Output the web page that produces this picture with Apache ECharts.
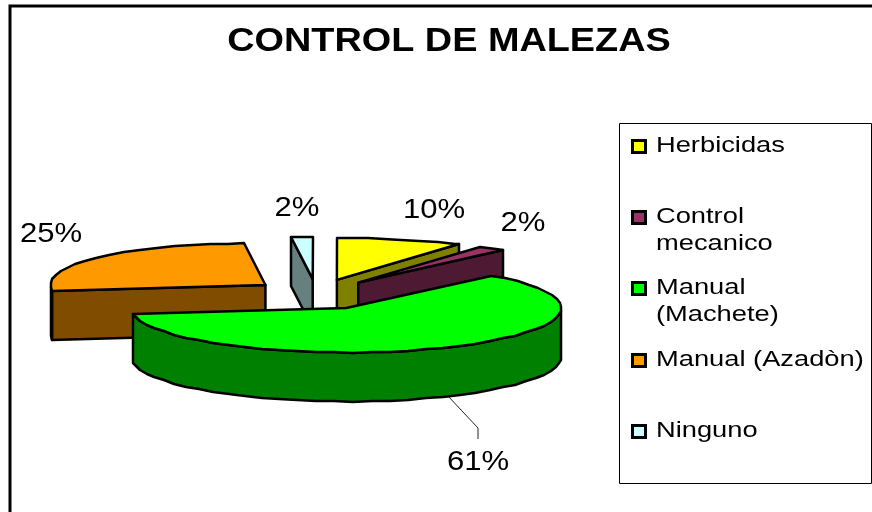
<!DOCTYPE html>
<html><head><meta charset="utf-8">
<style>html,body{margin:0;padding:0;background:#fff}#c{width:872px;height:512px}</style>
<script src="https://cdn.jsdelivr.net/npm/echarts@6/dist/echarts.min.js"></script>
</head><body><div id="c"></div>
<script>
const titleText = 'CONTROL DE MALEZAS';
const categories = ['Herbicidas', 'Control mecanico', 'Manual (Machete)', 'Manual (Azadòn)', 'Ninguno'];
const percents = [10, 2, 61, 25, 2];
const topColors = ['#FFFF00', '#993366', '#00FF00', '#FF9900', '#CCFFFF'];
const sideColors = ['#808000', '#4D1933', '#008000', '#804D00', '#668080'];
const legendLines = [['Herbicidas'], ['Control', 'mecanico'], ['Manual', '(Machete)'], ['Manual (Azadòn)'], ['Ninguno']];

// pie projection
const CX = 316.8, CY = 294.4, RX = 215, RY = 44.5, DEPTH = 49, EX = 65, EY = 15.3, STEP = 5;
const FONT = 'Liberation Sans, Arial, sans-serif';
const total = percents.reduce((a, b) => a + b, 0);
const spans = []; let acc = 0;
percents.forEach(v => { spans.push([acc / total * 360, (acc + v) / total * 360]); acc += v; });
const rad = d => d * Math.PI / 180;

function sliceGeom(i) {
  const [a, b] = spans[i], m = rad((a + b) / 2);
  const ox = CX + EX * Math.sin(m), oy = CY - EY * Math.cos(m);
  // slight narrowing of the far rim, as in a perspective view
  const at = d => {
    const c = Math.cos(rad(d)), back = c > 0 ? Math.pow(c, 8) : 0;
    return [Math.round(ox + RX * Math.sin(rad(d)) * (1 - 0.2 * back)),
            Math.round(oy - RY * c * (1 - 0.06 * back))];
  };
  const arc = [];
  for (let d = a; d < b; d += STEP) arc.push(at(d));
  arc.push(at(b));
  return { a, b, ox, oy, at, arc };
}
const down = p => [p[0], p[1] + DEPTH];
const poly = (points, fill) => ({
  type: 'polygon', shape: { points },
  style: { fill, stroke: '#000', lineWidth: 2.5, lineJoin: 'round' }
});
function renderSlice(i) {
  const g = sliceGeom(i), kids = [];
  const apex = [g.ox, g.oy];
  if (Math.sin(rad(g.a)) < -1e-6) { const p = g.at(g.a); kids.push(poly([apex, p, down(p), down(apex)], sideColors[i])); }
  if (Math.sin(rad(g.b)) > 1e-6) { const p = g.at(g.b); kids.push(poly([apex, p, down(p), down(apex)], sideColors[i])); }
  const front = g.arc.filter((p, k) => { const d = Math.min(g.a + k * STEP, g.b); return d >= 90 && d <= 270; });
  if (front.length > 1) kids.push(poly(front.concat(front.slice().reverse().map(down)), sideColors[i]));
  kids.push(poly([apex].concat(g.arc), topColors[i]));
  return { type: 'group', children: kids };
}
// back-to-front order: slices further from viewer are listed first
const order = percents.map((_, i) => i).sort((p, q) => {
  const y = i => -Math.cos(rad((spans[i][0] + spans[i][1]) / 2));
  return y(p) - y(q);
});

const txt = (text, x, y, size, opt = {}) => ({
  type: 'text', x, y, scaleX: opt.sx || 1.24, silent: true,
  style: { text, fill: '#000', font: `${opt.bold ? 'bold ' : ''}${size}px ${FONT}`,
    align: opt.align || 'left', verticalAlign: 'middle' }
});
const labelPos = [[434, 210], [523, 223], [478, 462], [51, 234], [297, 208]];
const legendY = [146, 217, 288, 360, 431];
const elements = [
  { type: 'polyline', shape: { points: [[10, 512], [10, 6], [872, 6]] }, style: { stroke: '#000', lineWidth: 3, fill: null } },
  txt(titleText, 449, 42, 34, { bold: true, align: 'center', sx: 1.113 }),
  { type: 'rect', shape: { x: 632.5, y: 123.5, width: 0, height: 0 }, style: { fill: null, stroke: null } },
  { type: 'rect', shape: { x: 619.5, y: 123.5, width: 252, height: 360 }, style: { fill: '#fff', stroke: '#000', lineWidth: 1 } },
  { type: 'polyline', shape: { points: [[447, 395], [478, 428], [478, 439]] }, style: { stroke: '#222', lineWidth: 1, fill: null } }
];
percents.forEach((v, i) => {
  elements.push(txt(v + '%', labelPos[i][0], labelPos[i][1], 28, { align: 'center', sx: 1.11 }));
  const y = legendY[i];
  elements.push({ type: 'rect', shape: { x: 632.5, y: y - 5.5, width: 13, height: 12 }, style: { fill: topColors[i], stroke: '#000', lineWidth: 3 } });
  legendLines[i].forEach((line, k) => elements.push(txt(line, 656, y + k * 27, 22, { sx: 1.24 })));
});

const chart = echarts.init(document.getElementById('c'), null, { renderer: 'canvas' });
chart.setOption({
  animation: false,
  backgroundColor: '#fff',
  series: order.map(i => ({
    type: 'custom', name: categories[i], coordinateSystem: 'none', silent: true,
    data: [{ value: percents[i] }],
    renderItem: () => renderSlice(i)
  })),
  graphic: { elements }
});
</script></body></html>
